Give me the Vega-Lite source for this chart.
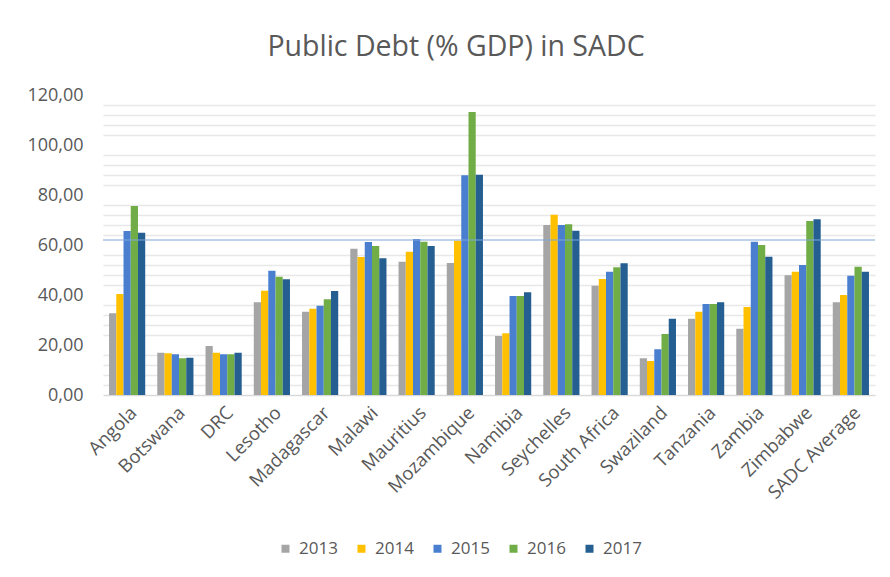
{
  "$schema": "https://vega.github.io/schema/vega-lite/v6.json",
  "width": 772,
  "height": 300,
  "autosize": {"type": "none"},
  "padding": {"left": 103, "top": 95, "right": 15, "bottom": 182},
  "background": "white",
  "title": {
    "text": "Public Debt (% GDP) in SADC",
    "font": "Open Sans",
    "fontSize": 28.5,
    "fontWeight": "normal",
    "color": "#595959",
    "anchor": "middle",
    "dx": -33,
    "offset": 25
  },
  "config": {
    "view": {"stroke": null},
    "font": "Open Sans"
  },
  "layer": [
    {
      "data": {
        "values": [
          {"country": "Angola", "year": "2013", "value": 32.7},
          {"country": "Angola", "year": "2014", "value": 40.4},
          {"country": "Angola", "year": "2015", "value": 65.6},
          {"country": "Angola", "year": "2016", "value": 75.6},
          {"country": "Angola", "year": "2017", "value": 64.9},
          {"country": "Botswana", "year": "2013", "value": 16.9},
          {"country": "Botswana", "year": "2014", "value": 16.7},
          {"country": "Botswana", "year": "2015", "value": 16.3},
          {"country": "Botswana", "year": "2016", "value": 14.7},
          {"country": "Botswana", "year": "2017", "value": 14.9},
          {"country": "DRC", "year": "2013", "value": 19.6},
          {"country": "DRC", "year": "2014", "value": 16.9},
          {"country": "DRC", "year": "2015", "value": 16.3},
          {"country": "DRC", "year": "2016", "value": 16.3},
          {"country": "DRC", "year": "2017", "value": 16.9},
          {"country": "Lesotho", "year": "2013", "value": 37.1},
          {"country": "Lesotho", "year": "2014", "value": 41.7},
          {"country": "Lesotho", "year": "2015", "value": 49.7},
          {"country": "Lesotho", "year": "2016", "value": 47.3},
          {"country": "Lesotho", "year": "2017", "value": 46.3},
          {"country": "Madagascar", "year": "2013", "value": 33.3},
          {"country": "Madagascar", "year": "2014", "value": 34.5},
          {"country": "Madagascar", "year": "2015", "value": 35.7},
          {"country": "Madagascar", "year": "2016", "value": 38.3},
          {"country": "Madagascar", "year": "2017", "value": 41.6},
          {"country": "Malawi", "year": "2013", "value": 58.5},
          {"country": "Malawi", "year": "2014", "value": 55.2},
          {"country": "Malawi", "year": "2015", "value": 61.2},
          {"country": "Malawi", "year": "2016", "value": 59.6},
          {"country": "Malawi", "year": "2017", "value": 54.7},
          {"country": "Mauritius", "year": "2013", "value": 53.3},
          {"country": "Mauritius", "year": "2014", "value": 57.3},
          {"country": "Mauritius", "year": "2015", "value": 62.4},
          {"country": "Mauritius", "year": "2016", "value": 61.3},
          {"country": "Mauritius", "year": "2017", "value": 59.6},
          {"country": "Mozambique", "year": "2013", "value": 52.8},
          {"country": "Mozambique", "year": "2014", "value": 61.7},
          {"country": "Mozambique", "year": "2015", "value": 87.9},
          {"country": "Mozambique", "year": "2016", "value": 113.2},
          {"country": "Mozambique", "year": "2017", "value": 88.1},
          {"country": "Namibia", "year": "2013", "value": 23.6},
          {"country": "Namibia", "year": "2014", "value": 24.7},
          {"country": "Namibia", "year": "2015", "value": 39.6},
          {"country": "Namibia", "year": "2016", "value": 39.6},
          {"country": "Namibia", "year": "2017", "value": 41.1},
          {"country": "Seychelles", "year": "2013", "value": 68.0},
          {"country": "Seychelles", "year": "2014", "value": 72.1},
          {"country": "Seychelles", "year": "2015", "value": 68.0},
          {"country": "Seychelles", "year": "2016", "value": 68.3},
          {"country": "Seychelles", "year": "2017", "value": 65.7},
          {"country": "South Africa", "year": "2013", "value": 43.7},
          {"country": "South Africa", "year": "2014", "value": 46.4},
          {"country": "South Africa", "year": "2015", "value": 49.3},
          {"country": "South Africa", "year": "2016", "value": 51.1},
          {"country": "South Africa", "year": "2017", "value": 52.7},
          {"country": "Swaziland", "year": "2013", "value": 14.7},
          {"country": "Swaziland", "year": "2014", "value": 13.6},
          {"country": "Swaziland", "year": "2015", "value": 18.3},
          {"country": "Swaziland", "year": "2016", "value": 24.4},
          {"country": "Swaziland", "year": "2017", "value": 30.5},
          {"country": "Tanzania", "year": "2013", "value": 30.5},
          {"country": "Tanzania", "year": "2014", "value": 33.3},
          {"country": "Tanzania", "year": "2015", "value": 36.4},
          {"country": "Tanzania", "year": "2016", "value": 36.4},
          {"country": "Tanzania", "year": "2017", "value": 37.1},
          {"country": "Zambia", "year": "2013", "value": 26.5},
          {"country": "Zambia", "year": "2014", "value": 35.2},
          {"country": "Zambia", "year": "2015", "value": 61.3},
          {"country": "Zambia", "year": "2016", "value": 60.0},
          {"country": "Zambia", "year": "2017", "value": 55.3},
          {"country": "Zimbabwe", "year": "2013", "value": 47.9},
          {"country": "Zimbabwe", "year": "2014", "value": 49.3},
          {"country": "Zimbabwe", "year": "2015", "value": 52.0},
          {"country": "Zimbabwe", "year": "2016", "value": 69.6},
          {"country": "Zimbabwe", "year": "2017", "value": 70.3},
          {"country": "SADC Average", "year": "2013", "value": 37.1},
          {"country": "SADC Average", "year": "2014", "value": 40.0},
          {"country": "SADC Average", "year": "2015", "value": 47.7},
          {"country": "SADC Average", "year": "2016", "value": 51.3},
          {"country": "SADC Average", "year": "2017", "value": 49.3}
        ]
      },
      "mark": {"type": "bar"},
      "encoding": {
        "x": {
          "field": "country",
          "type": "nominal",
          "sort": null,
          "scale": {"paddingInner": 0.25, "paddingOuter": 0.125},
          "axis": {
            "title": null,
            "labelAngle": -45,
            "labelFontSize": 18.5,
            "labelColor": "#595959",
            "labelFont": "Open Sans",
            "labelPadding": 8,
            "labelOverlap": false,
            "domainColor": "#d9d9d9",
            "domainWidth": 1.5,
            "ticks": false
          }
        },
        "xOffset": {"field": "year", "type": "nominal", "scale": {"paddingInner": 0}},
        "y": {
          "field": "value",
          "type": "quantitative",
          "scale": {"domain": [0, 120], "nice": false},
          "axis": {
            "title": null,
            "values": [0, 4, 8, 12, 16, 20, 24, 28, 32, 36, 40, 44, 48, 52, 56, 60, 64, 68, 72, 76, 80, 84, 88, 92, 96, 100, 104, 108, 112, 116, 120],
            "tickCount": 40,
            "labelOverlap": false,
            "labelBound": false,
            "labelExpr": "datum.value % 20 === 0 ? replace(format(datum.value, '.2f'), '.', ',') : ''",
            "labelFontSize": 18,
            "labelColor": "#595959",
            "labelFont": "Open Sans",
            "labelPadding": 20,
            "domain": false,
            "ticks": false,
            "grid": true,
            "gridColor": {"condition": {"test": "datum.value % 20 === 0", "value": "transparent"}, "value": "#e8e8e8"},
            "gridWidth": 1.5
          }
        },
        "color": {
          "field": "year",
          "type": "nominal",
          "scale": {
            "domain": ["2013", "2014", "2015", "2016", "2017"],
            "range": ["#a5a5a5", "#ffc000", "#4a7fd0", "#70ad47", "#255e91"]
          },
          "legend": {
            "title": null,
            "orient": "none",
            "direction": "horizontal",
            "columns": 5,
            "legendX": 174,
            "legendY": 445,
            "symbolType": "square",
            "symbolSize": 64,
            "symbolStrokeWidth": 0,
            "symbolOpacity": 1,
            "labelFontSize": 17,
            "labelColor": "#595959",
            "labelFont": "Open Sans",
            "labelOffset": 5,
            "columnPadding": 15
          }
        }
      }
    },
    {
      "data": {"values": [{"ref": 62}]},
      "mark": {"type": "rule", "color": "#7fa6d9", "strokeWidth": 1.2},
      "encoding": {
        "y": {"field": "ref", "type": "quantitative"}
      }
    }
  ]
}
